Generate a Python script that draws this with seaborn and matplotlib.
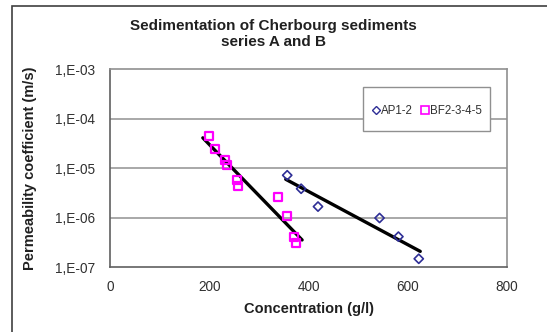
import numpy as np
import pandas as pd
import matplotlib
matplotlib.use("Agg")
import matplotlib.pyplot as plt
import seaborn as sns
from matplotlib.patches import Rectangle
from matplotlib.lines import Line2D

# ------------------------------------------------------------------
# Data (concentration g/l, permeability m/s)
# ------------------------------------------------------------------
ap_conc = [357, 385, 419, 543, 581, 622]
ap_perm = [7.3e-6, 3.9e-6, 1.7e-6, 1.0e-6, 4.2e-7, 1.5e-7]

bf_conc = [199, 212, 232, 235, 255, 257, 339, 356, 370, 375]
bf_perm = [4.6e-5, 2.5e-5, 1.5e-5, 1.2e-5, 5.9e-6, 4.4e-6, 2.6e-6, 1.1e-6, 4.1e-7, 3.1e-7]

series_names = ["AP1-2", "BF2-3-4-5"]
y_ticks_exp = [-7, -6, -5, -4, -3]
y_tick_labels = ["1,E-07", "1,E-06", "1,E-05", "1,E-04", "1,E-03"]
x_ticks = [0, 200, 400, 600, 800]

sns.set_style("white")
plt.rcParams['font.family'] = ['Liberation Sans', 'DejaVu Sans']

df = pd.DataFrame({
    "conc": ap_conc + bf_conc,
    "perm": ap_perm + bf_perm,
    "serie": [series_names[0]] * len(ap_conc) + [series_names[1]] * len(bf_conc),
})
df["logk"] = np.log10(df["perm"])

fig = plt.figure(figsize=(5.47, 3.32), dpi=100)
ax = fig.add_axes([0.2011, 0.1943, 0.7260, 0.5964])

# grid lines (decades)
for e in y_ticks_exp[1:-1]:
    ax.axhline(e, color="#a8a8a8", lw=1.4, zorder=0)

# trend lines (least squares on log10 k), drawn a bit past the data like Excel
for name, pad in zip(series_names, [3, 12]):
    sub = df[df["serie"] == name]
    a, b = np.polyfit(sub["conc"], sub["logk"], 1)
    xs = np.array([sub["conc"].min() - pad, sub["conc"].max() + pad])
    sns.lineplot(x=xs, y=a * xs + b, color="black", lw=2.4, ax=ax, zorder=2)

sub = df[df["serie"] == series_names[0]]
ax.scatter(sub["conc"], sub["logk"], marker="D", s=22, facecolors="none",
           edgecolors="#2e2e96", linewidths=1.2, zorder=3)
sub = df[df["serie"] == series_names[1]]
ax.scatter(sub["conc"], sub["logk"], marker="s", s=34, facecolors="none",
           edgecolors="#ff00ff", linewidths=1.6, zorder=3)

ax.set_xlim(0, 800)
ax.set_ylim(-7, -3)
ax.set_xticks(x_ticks)
ax.set_xticklabels([str(v) for v in x_ticks])
ax.set_yticks(y_ticks_exp)
ax.set_yticklabels(y_tick_labels)
ax.tick_params(axis="both", direction="out", length=5, width=1, color="#606060",
               labelsize=9.8, labelcolor="#303030", pad=4)
ax.tick_params(axis="y", pad=6)

for side in ["left", "bottom"]:
    ax.spines[side].set_color("#606060")
    ax.spines[side].set_linewidth(1.2)
for side in ["top", "right"]:
    ax.spines[side].set_color("#909090")
    ax.spines[side].set_linewidth(1.2)

ax.set_xlabel("Concentration (g/l)", fontsize=10.5, fontweight="bold", color="#202020")
ax.set_ylabel("Permeability coefficient (m/s)", fontsize=10.5, fontweight="bold", color="#202020")
ax.xaxis.set_label_coords(0.5, -0.175)
ax.yaxis.set_label_coords(-0.183, 0.5)

# legend box drawn separately (Excel-style padding, wider vertically)
ax.add_patch(Rectangle((0.637, 0.691), 0.320, 0.222, transform=ax.transAxes,
                       facecolor="white", edgecolor="#909090", lw=1.0, zorder=4))
handles = [
    Line2D([], [], marker="D", ls="none", markersize=4, markerfacecolor="none",
           markeredgecolor="#2e2e96", markeredgewidth=1.0),
    Line2D([], [], marker="s", ls="none", markersize=5.5, markerfacecolor="none",
           markeredgecolor="#ff00ff", markeredgewidth=1.2),
]
leg = ax.legend(handles, series_names, loc="center left", bbox_to_anchor=(0.660, 0.792),
                ncol=2, frameon=False, fontsize=8.3, handlelength=0.6, handletextpad=0.2,
                columnspacing=0.7, borderpad=0, borderaxespad=0)
leg.set_zorder(5)
for t in leg.get_texts():
    t.set_color("#303030")

fig.text(0.5, 1 - 30 / 332, "Sedimentation of Cherbourg sediments", ha="center",
         va="baseline", fontsize=11, fontweight="bold", color="#202020")
fig.text(0.5, 1 - 46 / 332, "series A and B", ha="center",
         va="baseline", fontsize=11, fontweight="bold", color="#202020")

# outer chart-area border (only top and left edges are visible in the crop)
fig.add_artist(Rectangle((12 / 547, -0.2), 1.2, 1.2 - 6 / 332, transform=fig.transFigure,
                         fill=False, edgecolor="#404040", lw=1.2))

fig.savefig("out.png", dpi=100)
